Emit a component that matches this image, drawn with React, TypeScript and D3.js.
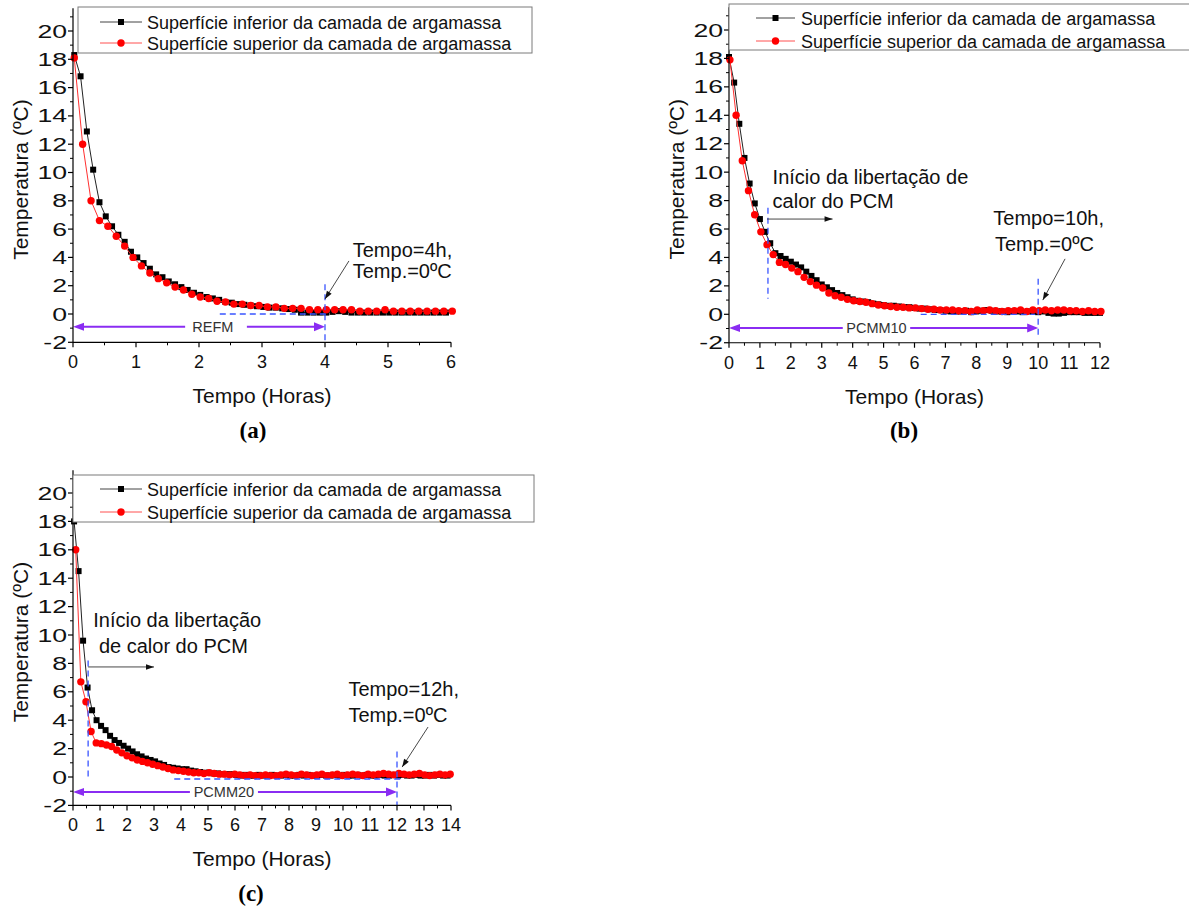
import React from 'react';
import * as d3 from 'd3';

const FONT = '"Liberation Sans", Arial, Helvetica, sans-serif';
const SERIF = '"Liberation Serif", "Times New Roman", serif';

const legendLabels = [
  'Superfície inferior da camada de argamassa',
  'Superfície superior da camada de argamassa',
];
const yTickValues = [-2, 0, 2, 4, 6, 8, 10, 12, 14, 16, 18, 20];
const xTicksA = [0, 1, 2, 3, 4, 5, 6];
const xTicksB = [0, 1, 2, 3, 4, 5, 6, 7, 8, 9, 10, 11, 12];
const xTicksC = [0, 1, 2, 3, 4, 5, 6, 7, 8, 9, 10, 11, 12, 13, 14];
const xTitle = 'Tempo (Horas)';
const yTitle = 'Temperatura (ºC)';

// Panel (a) REFM — sampling start/step in hours, then temperatures (ºC)
const aInferiorStart = 0.02;
const aInferiorStep = 0.1;
const aInferior = [
  18.3, 16.8, 12.9, 10.2, 7.9, 6.9, 6.2, 5.6, 5.1, 4.4,
  4.0, 3.6, 3.2, 2.8, 2.6, 2.3, 2.1, 1.9, 1.7, 1.5,
  1.35, 1.2, 1.1, 1.0, 0.85, 0.8, 0.7, 0.65, 0.6, 0.55,
  0.5, 0.45, 0.45, 0.4, 0.35, 0.3, 0.1, 0.1, 0.1, 0.1,
  0.1, 0.15, 0.2, 0.15, 0.1, 0.1, 0.1, 0.1, 0.1, 0.1,
  0.1, 0.1, 0.1, 0.1, 0.1, 0.1, 0.1, 0.1, 0.1, 0.1,
];
const aSuperiorStart = 0.02;
const aSuperiorStep = 2 / 15;
const aSuperior = [
  18.1, 12.0, 8.0, 6.6, 6.2, 5.5, 4.8, 4.0, 3.4, 2.9,
  2.5, 2.2, 1.9, 1.7, 1.4, 1.2, 1.1, 0.9, 0.85, 0.7,
  0.7, 0.6, 0.6, 0.5, 0.5, 0.4, 0.4, 0.4, 0.3, 0.3,
  0.3, 0.3, 0.3, 0.3, 0.2, 0.2, 0.2, 0.3, 0.2, 0.2,
  0.2, 0.2, 0.2, 0.2, 0.2, 0.2,
];

// Panel (b) PCMM10
const bInferiorStart = 0;
const bInferiorStep = 1 / 6;
const bInferior = [
  18.1, 16.3, 13.4, 11.0, 9.2, 7.8, 6.7, 5.8, 5.0, 4.3,
  4.1, 3.9, 3.7, 3.5, 3.3, 3.0, 2.7, 2.4, 2.1, 1.9,
  1.7, 1.5, 1.35, 1.2, 1.05, 0.95, 0.9, 0.85, 0.75, 0.7,
  0.65, 0.6, 0.6, 0.55, 0.5, 0.5, 0.45, 0.4, 0.4, 0.35,
  0.3, 0.3, 0.25, 0.2, 0.2, 0.2, 0.25, 0.15, 0.2, 0.25,
  0.3, 0.25, 0.2, 0.2, 0.15, 0.2, 0.2, 0.15, 0.2, 0.2,
  0.15, 0.2, 0.1, 0.05, 0.05, 0.1, 0.15, 0.15, 0.15, 0.1,
  0.1, 0.1, 0.1,
];
const bSuperiorStart = 0.03;
const bSuperiorStep = 0.2;
const bSuperior = [
  17.9, 14.0, 10.8, 8.7, 7.0, 5.8, 4.9, 4.2, 3.65, 3.5,
  3.25, 3.0, 2.6, 2.3, 2.05, 1.85, 1.5, 1.3, 1.2, 1.05,
  0.95, 0.9, 0.85, 0.75, 0.65, 0.6, 0.55, 0.5, 0.5, 0.45,
  0.45, 0.4, 0.35, 0.35, 0.3, 0.3, 0.3, 0.25, 0.25, 0.2,
  0.3, 0.25, 0.3, 0.25, 0.2, 0.25, 0.25, 0.3, 0.2, 0.3,
  0.25, 0.3, 0.25, 0.3, 0.3, 0.25, 0.25, 0.2, 0.25, 0.2,
  0.2,
];

// Panel (c) PCMM20
const cInferiorStart = 0.04;
const cInferiorStep = 1 / 6;
const cInferior = [
  18.0, 14.5, 9.6, 6.3, 4.7, 4.0, 3.6, 3.3, 2.9, 2.6,
  2.4, 2.2, 2.0, 1.8, 1.6, 1.45, 1.3, 1.2, 1.1, 0.95,
  0.85, 0.7, 0.65, 0.6, 0.55, 0.55, 0.45, 0.4, 0.35, 0.3,
  0.3, 0.25, 0.25, 0.2, 0.2, 0.2, 0.15, 0.1, 0.15, 0.1,
  0.1, 0.15, 0.1, 0.1, 0.15, 0.1, 0.1, 0.15, 0.1, 0.1,
  0.15, 0.1, 0.15, 0.1, 0.1, 0.15, 0.1, 0.1, 0.15, 0.1,
  0.15, 0.1, 0.1, 0.15, 0.1, 0.15, 0.1, 0.1, 0.15, 0.1,
  0.1, 0.15, 0.1, 0.15, 0.1, 0.1, 0.15, 0.1, 0.1, 0.15,
  0.1, 0.15, 0.1, 0.1,
];
const cSuperiorStart = 0.1;
const cSuperiorStep = 0.19;
const cSuperior = [
  16.0, 6.7, 5.3, 3.2, 2.4, 2.35, 2.25, 2.15, 1.9, 1.7,
  1.5, 1.35, 1.2, 1.1, 1.0, 0.9, 0.8, 0.7, 0.6, 0.5,
  0.45, 0.4, 0.35, 0.3, 0.3, 0.25, 0.3, 0.25, 0.2, 0.2,
  0.15, 0.2, 0.15, 0.1, 0.15, 0.1, 0.1, 0.15, 0.1, 0.1,
  0.15, 0.2, 0.15, 0.1, 0.2, 0.15, 0.1, 0.15, 0.2, 0.1,
  0.15, 0.2, 0.1, 0.15, 0.2, 0.15, 0.1, 0.2, 0.15, 0.2,
  0.25, 0.2, 0.15, 0.25, 0.2, 0.15, 0.2, 0.25, 0.15, 0.1,
  0.15, 0.2, 0.15, 0.2,
];

type Pt = [number, number];
const toPoints = (start: number, step: number, vals: number[]): Pt[] =>
  vals.map((v, i) => [start + i * step, v] as Pt);

const Y_TOP = 21.6;
const BLUE = '#3a55ff';
const PURPLE = '#8a2cf2';

function head(x1: number, y1: number, x2: number, y2: number, len: number, half: number) {
  const a = Math.atan2(y2 - y1, x2 - x1);
  const bx = x2 - len * Math.cos(a);
  const by = y2 - len * Math.sin(a);
  const s = Math.sin(a), c = Math.cos(a);
  return `${x2},${y2} ${bx - half * s},${by + half * c} ${bx + half * s},${by - half * c}`;
}

const panels = [
  {
    id: 'a',
    xTicks: xTicksA,
    left: 73, right: 451, yZero: 314, yTwenty: 31,
    inferior: toPoints(aInferiorStart, aInferiorStep, aInferior),
    superior: toPoints(aSuperiorStart, aSuperiorStep, aSuperior),
    legend: { box: [78, 7, 532, 53], lineX: [100, 142], rows: [22, 43], textX: 147 },
    blue: [[4, 2.1, 4, -2], [2.33, 0, 4.05, 0]],
    purple: { y: -0.9, gap: [1.78, 2.76], end: 4, label: 'REFM', labelX: 2.22 },
    pointers: [{ from: [4.38, 3.75], to: [4.0, 1.06] }],
    texts: [
      { t: 'Tempo=4h,', x: 4.44, y: 4.05 },
      { t: 'Temp.=0ºC', x: 4.44, y: 2.52 },
    ],
    caption: { t: '(a)', x: 253, y: 438 },
  },
  {
    id: 'b',
    xTicks: xTicksB,
    left: 729, right: 1100, yZero: 314.3, yTwenty: 30,
    inferior: toPoints(bInferiorStart, bInferiorStep, bInferior),
    superior: toPoints(bSuperiorStart, bSuperiorStep, bSuperior),
    legend: { box: [729, 4, 1196, 50], lineX: [756, 795], rows: [18, 41], textX: 801 },
    blue: [[1.26, 7.5, 1.26, 1.1], [10, 2.5, 10, -1.6], [6.2, 0, 9.9, 0]],
    purple: { y: -0.96, gap: [3.68, 5.86], end: 10, label: 'PCMM10', labelX: 4.77 },
    pointers: [
      { from: [10.87, 3.9], to: [10.15, 1.0] },
      { from: [1.23, 6.7], to: [3.35, 6.7] },
    ],
    texts: [
      { t: 'Tempo=10h,', x: 8.55, y: 6.29 },
      { t: 'Temp.=0ºC', x: 8.6, y: 4.46 },
      { t: 'Início da libertação de', x: 1.41, y: 9.15 },
      { t: 'calor do PCM', x: 1.41, y: 7.46 },
    ],
    caption: { t: '(b)', x: 904, y: 438 },
  },
  {
    id: 'c',
    xTicks: xTicksC,
    left: 73, right: 451, yZero: 777, yTwenty: 493,
    inferior: toPoints(cInferiorStart, cInferiorStep, cInferior),
    superior: toPoints(cSuperiorStart, cSuperiorStep, cSuperior),
    legend: { box: [73, 475, 534, 522], lineX: [100, 142], rows: [489, 512], textX: 147 },
    blue: [[0.56, 8.2, 0.56, -0.2], [12, 1.8, 12, -2], [3.75, -0.14, 12.2, -0.14]],
    purple: { y: -1.06, gap: [4.33, 6.85], end: 12, label: 'PCMM20', labelX: 5.59 },
    pointers: [
      { from: [13.15, 3.52], to: [12.19, 0.7] },
      { from: [0.56, 7.75], to: [3.0, 7.75] },
    ],
    texts: [
      { t: 'Início da libertação', x: 0.75, y: 10.58 },
      { t: 'de calor do PCM', x: 0.96, y: 8.75 },
      { t: 'Tempo=12h,', x: 10.2, y: 5.73 },
      { t: 'Temp.=0ºC', x: 10.2, y: 3.9 },
    ],
    caption: { t: '(c)', x: 251, y: 901 },
  },
];

function Panel({ p }: { p: any }) {
  const xMax = p.xTicks[p.xTicks.length - 1];
  const x = d3.scaleLinear().domain([0, xMax]).range([p.left, p.right]);
  const y = d3.scaleLinear().domain([0, 20]).range([p.yZero, p.yTwenty]);
  const yB = y(-2);
  const line = d3.line<Pt>().x((d) => x(d[0])).y((d) => y(d[1]));
  const minorX = d3.range(0.5, xMax, 1);
  const minorY = d3.range(-1, Y_TOP, 2);
  const [bx0, by0, bx1, by1] = p.legend.box;
  const py = y(p.purple.y);
  return (
    <g>
      {/* data: inferior (black squares) */}
      <path d={line(p.inferior) || ''} fill="none" stroke="#222" strokeWidth={1} />
      {p.inferior.map((d: Pt, i: number) => (
        <rect key={'i' + i} x={x(d[0]) - 3} y={y(d[1]) - 3} width={6} height={6} fill="#000" />
      ))}
      <path d={line(p.superior) || ''} fill="none" stroke="#ff3030" strokeWidth={1} />
      {p.superior.map((d: Pt, i: number) => (
        <circle key={'s' + i} cx={x(d[0])} cy={y(d[1])} r={3.7} fill="#ff0000" />
      ))}

      {/* blue dashed guides */}
      {p.blue.map((b: number[], i: number) => (
        <line key={'b' + i} x1={x(b[0])} y1={y(b[1])} x2={x(b[2])} y2={y(b[3])}
          stroke={BLUE} strokeWidth={1.3} strokeDasharray="6,4" />
      ))}

      {/* purple arrow */}
      <line x1={x(0) + 8} y1={py} x2={x(p.purple.gap[0])} y2={py} stroke={PURPLE} strokeWidth={2} />
      <line x1={x(p.purple.gap[1])} y1={py} x2={x(p.purple.end) - 8} y2={py} stroke={PURPLE} strokeWidth={2} />
      <polygon points={head(x(1), py, x(0), py, 11, 4)} fill={PURPLE} />
      <polygon points={head(x(0), py, x(p.purple.end), py, 11, 4.5)} fill={PURPLE} />
      <text x={x(p.purple.labelX)} y={py + 5} textAnchor="middle" fontSize={14.5} fill="#333">
        {p.purple.label}
      </text>

      {/* pointer arrows */}
      {p.pointers.map((a: any, i: number) => {
        const x1 = x(a.from[0]), y1 = y(a.from[1]), x2 = x(a.to[0]), y2 = y(a.to[1]);
        return (
          <g key={'p' + i}>
            <line x1={x1} y1={y1} x2={x2} y2={y2} stroke="#333" strokeWidth={0.9} />
            <polygon points={head(x1, y1, x2, y2, 8, 2.8)} fill="#111" />
          </g>
        );
      })}

      {/* annotation texts */}
      {p.texts.map((t: any, i: number) => (
        <text key={'t' + i} x={x(t.x)} y={y(t.y)} fontSize={20} fill="#111">{t.t}</text>
      ))}

      {/* axes */}
      <line x1={x(0)} y1={yB} x2={x(0)} y2={y(Y_TOP)} stroke="#000" strokeWidth={1.2} />
      <line x1={x(0)} y1={yB} x2={x(xMax)} y2={yB} stroke="#000" strokeWidth={1.2} />
      {yTickValues.map((v) => (
        <g key={'yt' + v}>
          <line x1={x(0) - 5} x2={x(0)} y1={y(v)} y2={y(v)} stroke="#000" strokeWidth={1.2} />
          <text transform={`translate(${x(0) - 6},${y(v) + 6.5}) scale(1.48,1)`} textAnchor="end" fontSize={18} fill="#111">
            {v}
          </text>
        </g>
      ))}
      {minorY.map((v: number) => (
        <line key={'ym' + v} x1={x(0) - 3} x2={x(0)} y1={y(v)} y2={y(v)} stroke="#000" strokeWidth={1} />
      ))}
      {p.xTicks.map((v: number) => (
        <g key={'xt' + v}>
          <line x1={x(v)} x2={x(v)} y1={yB} y2={yB + 5} stroke="#000" strokeWidth={1.2} />
          <text x={x(v)} y={yB + 26} textAnchor="middle" fontSize={18} fill="#111">{v}</text>
        </g>
      ))}
      {minorX.map((v: number) => (
        <line key={'xm' + v} x1={x(v)} x2={x(v)} y1={yB} y2={yB + 3} stroke="#000" strokeWidth={1} />
      ))}
      <text x={(x(0) + x(xMax)) / 2} y={yB + 61} textAnchor="middle" fontSize={21} fill="#111">{xTitle}</text>
      <text transform={`translate(${x(0) - 45.5},${y(9.5)}) rotate(-90)`} textAnchor="middle" fontSize={21} fill="#111">
        {yTitle}
      </text>

      {/* legend */}
      <rect x={bx0} y={by0} width={bx1 - bx0} height={by1 - by0} fill="#fff" stroke="#7a7a7a" strokeWidth={1} />
      <line x1={p.legend.lineX[0]} x2={p.legend.lineX[1]} y1={p.legend.rows[0]} y2={p.legend.rows[0]} stroke="#444" strokeWidth={1} />
      <rect x={(p.legend.lineX[0] + p.legend.lineX[1]) / 2 - 3} y={p.legend.rows[0] - 3} width={6} height={6} fill="#000" />
      <line x1={p.legend.lineX[0]} x2={p.legend.lineX[1]} y1={p.legend.rows[1]} y2={p.legend.rows[1]} stroke="#ff5050" strokeWidth={1} />
      <circle cx={(p.legend.lineX[0] + p.legend.lineX[1]) / 2} cy={p.legend.rows[1]} r={3.7} fill="#ff0000" />
      {legendLabels.map((l, i) => (
        <text key={'l' + i} x={p.legend.textX} y={p.legend.rows[i] + 6.5} fontSize={18} fill="#111">{l}</text>
      ))}

      {/* caption */}
      <text x={p.caption.x} y={p.caption.y} textAnchor="middle" fontFamily={SERIF} fontWeight="bold" fontSize={23} fill="#000">
        {p.caption.t}
      </text>
    </g>
  );
}

export default function App() {
  return (
    <svg width={1189} height={908} style={{ position: 'absolute', left: 0, top: 0 }} fontFamily={FONT}>
      <rect x={0} y={0} width={1189} height={908} fill="#fff" />
      {panels.map((p) => (
        <Panel key={p.id} p={p} />
      ))}
    </svg>
  );
}
